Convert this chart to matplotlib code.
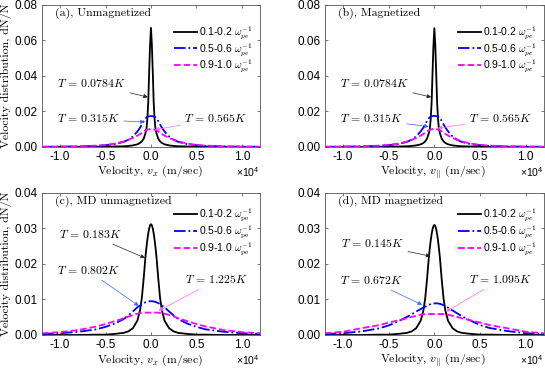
import matplotlib
matplotlib.use('Agg')
import matplotlib.pyplot as plt
import numpy as np

plt.rcParams['mathtext.fontset'] = 'cm'
plt.rcParams['font.family'] = ['Liberation Sans', 'DejaVu Sans']
plt.rcParams['axes.unicode_minus'] = False

# velocity grid, in units of 10^4 m/sec
vel = [-1.2, -1.0, -0.8, -0.6, -0.5, -0.4, -0.3, -0.25, -0.2, -0.15, -0.12, -0.1, -0.08, -0.06, -0.05, -0.04, -0.03, -0.02, -0.01,
       0.0,
       0.01, 0.02, 0.03, 0.04, 0.05, 0.06, 0.08, 0.1, 0.12, 0.15, 0.2, 0.25, 0.3, 0.4, 0.5, 0.6, 0.8, 1.0, 1.2]

# (a) unmagnetized
black_a = [0.0000, 0.0000, 0.0000, 0.0001, 0.0001, 0.0002, 0.0003, 0.0005, 0.0008, 0.0014, 0.0022, 0.0031, 0.0046, 0.0078, 0.0100, 0.0155, 0.0250, 0.0420, 0.0575,
           0.0670,
           0.0575, 0.0420, 0.0250, 0.0155, 0.0100, 0.0078, 0.0046, 0.0031, 0.0022, 0.0014, 0.0008, 0.0005, 0.0003, 0.0002, 0.0001, 0.0001, 0.0000, 0.0000, 0.0000]
blue_a = [0.0000, 0.0001, 0.0002, 0.0005, 0.0009, 0.0015, 0.0028, 0.0040, 0.0058, 0.0086, 0.0108, 0.0126, 0.0145, 0.0160, 0.0165, 0.0169, 0.0171, 0.0172, 0.0173,
          0.0173,
          0.0173, 0.0172, 0.0171, 0.0169, 0.0165, 0.0160, 0.0145, 0.0126, 0.0108, 0.0086, 0.0058, 0.0040, 0.0028, 0.0015, 0.0009, 0.0005, 0.0002, 0.0001, 0.0000]
magenta_a = [0.0000, 0.0001, 0.0003, 0.0007, 0.0011, 0.0018, 0.0030, 0.0039, 0.0050, 0.0063, 0.0072, 0.0079, 0.0087, 0.0093, 0.0095, 0.0097, 0.0098, 0.0099, 0.0100,
             0.0100,
             0.0100, 0.0099, 0.0098, 0.0097, 0.0095, 0.0093, 0.0087, 0.0079, 0.0072, 0.0063, 0.0050, 0.0039, 0.0030, 0.0018, 0.0011, 0.0007, 0.0003, 0.0001, 0.0000]

# (b) magnetized
black_b = [0.0000, 0.0000, 0.0000, 0.0001, 0.0001, 0.0002, 0.0003, 0.0005, 0.0008, 0.0014, 0.0022, 0.0031, 0.0047, 0.0078, 0.0101, 0.0156, 0.0250, 0.0418, 0.0572,
           0.0668,
           0.0572, 0.0418, 0.0250, 0.0156, 0.0101, 0.0078, 0.0047, 0.0031, 0.0022, 0.0014, 0.0008, 0.0005, 0.0003, 0.0002, 0.0001, 0.0001, 0.0000, 0.0000, 0.0000]
blue_b = [0.0000, 0.0001, 0.0002, 0.0005, 0.0009, 0.0015, 0.0028, 0.0040, 0.0058, 0.0087, 0.0109, 0.0127, 0.0146, 0.0161, 0.0166, 0.0170, 0.0172, 0.0173, 0.0174,
          0.0174,
          0.0174, 0.0173, 0.0172, 0.0170, 0.0166, 0.0161, 0.0146, 0.0127, 0.0109, 0.0087, 0.0058, 0.0040, 0.0028, 0.0015, 0.0009, 0.0005, 0.0002, 0.0001, 0.0000]
magenta_b = [0.0000, 0.0001, 0.0003, 0.0007, 0.0011, 0.0018, 0.0030, 0.0039, 0.0050, 0.0063, 0.0073, 0.0080, 0.0087, 0.0093, 0.0095, 0.0097, 0.0099, 0.0100, 0.0101,
             0.0101,
             0.0101, 0.0100, 0.0099, 0.0097, 0.0095, 0.0093, 0.0087, 0.0080, 0.0073, 0.0063, 0.0050, 0.0039, 0.0030, 0.0018, 0.0011, 0.0007, 0.0003, 0.0001, 0.0000]

# (c) MD unmagnetized
black_c = [0.0000, 0.0000, 0.0000, 0.0001, 0.0001, 0.0003, 0.0006, 0.0010, 0.0019, 0.0040, 0.0070, 0.0105, 0.0160, 0.0222, 0.0246, 0.0268, 0.0286, 0.0300, 0.0309,
           0.0312,
           0.0309, 0.0300, 0.0286, 0.0268, 0.0246, 0.0222, 0.0160, 0.0105, 0.0070, 0.0040, 0.0019, 0.0010, 0.0006, 0.0003, 0.0001, 0.0001, 0.0000, 0.0000, 0.0000]
blue_c = [0.0003, 0.0005, 0.0009, 0.0016, 0.0023, 0.0032, 0.0045, 0.0055, 0.0066, 0.0078, 0.0083, 0.0087, 0.0090, 0.0092, 0.0093, 0.0094, 0.0094, 0.0095, 0.0095,
          0.0095,
          0.0095, 0.0095, 0.0094, 0.0094, 0.0093, 0.0092, 0.0090, 0.0087, 0.0083, 0.0078, 0.0066, 0.0055, 0.0045, 0.0032, 0.0023, 0.0016, 0.0009, 0.0005, 0.0003]
magenta_c = [0.0005, 0.0008, 0.0014, 0.0024, 0.0031, 0.0039, 0.0047, 0.0052, 0.0056, 0.0060, 0.0062, 0.0062, 0.0063, 0.0063, 0.0063, 0.0063, 0.0063, 0.0063, 0.0063,
             0.0063,
             0.0063, 0.0063, 0.0063, 0.0063, 0.0063, 0.0063, 0.0063, 0.0062, 0.0062, 0.0060, 0.0056, 0.0052, 0.0047, 0.0039, 0.0031, 0.0024, 0.0014, 0.0008, 0.0005]

# (d) MD magnetized
black_d = [0.0000, 0.0000, 0.0000, 0.0001, 0.0001, 0.0003, 0.0006, 0.0010, 0.0019, 0.0040, 0.0069, 0.0104, 0.0158, 0.0220, 0.0244, 0.0266, 0.0284, 0.0298, 0.0307,
           0.0310,
           0.0307, 0.0298, 0.0284, 0.0266, 0.0244, 0.0220, 0.0158, 0.0104, 0.0069, 0.0040, 0.0019, 0.0010, 0.0006, 0.0003, 0.0001, 0.0001, 0.0000, 0.0000, 0.0000]
blue_d = [0.0003, 0.0005, 0.0010, 0.0019, 0.0027, 0.0038, 0.0051, 0.0058, 0.0066, 0.0073, 0.0077, 0.0080, 0.0082, 0.0085, 0.0086, 0.0087, 0.0088, 0.0088, 0.0089,
          0.0089,
          0.0089, 0.0089, 0.0089, 0.0089, 0.0088, 0.0088, 0.0086, 0.0084, 0.0081, 0.0077, 0.0069, 0.0061, 0.0053, 0.0040, 0.0028, 0.0020, 0.0011, 0.0005, 0.0003]
magenta_d = [0.0005, 0.0009, 0.0019, 0.0028, 0.0035, 0.0041, 0.0047, 0.0051, 0.0054, 0.0057, 0.0058, 0.0059, 0.0059, 0.0059, 0.0059, 0.0059, 0.0059, 0.0059, 0.0059,
             0.0059,
             0.0059, 0.0059, 0.0059, 0.0059, 0.0059, 0.0059, 0.0059, 0.0059, 0.0058, 0.0057, 0.0054, 0.0051, 0.0047, 0.0041, 0.0035, 0.0028, 0.0019, 0.0009, 0.0005]

panel_titles = ['(a), Unmagnetized', '(b), Magnetized', '(c), MD unmagnetized', '(d), MD magnetized']
temps = [['0.0784', '0.315', '0.565'], ['0.0784', '0.315', '0.565'],
         ['0.183', '0.802', '1.225'], ['0.145', '0.672', '1.095']]
legend_a = [r'0.1-0.2 $\omega_{pe}^{-1}$', r'0.5-0.6 $\omega_{pe}^{-1}$', r'0.9-1.0 $\omega_{pe}^{-1}$']
legend_c = [r'0.1-0.2 $\omega_{\rm pe}^{-1}$', r'0.5-0.6 $\omega_{\rm pe}^{-1}$', r'0.9-1.0 $\omega_{\rm pe}^{-1}$']
xlabels = [r'Velocity, $v_x$ (m/sec)', r'Velocity, $v_{||}$ (m/sec)']

curves = [(black_a, blue_a, magenta_a), (black_b, blue_b, magenta_b),
          (black_c, blue_c, magenta_c), (black_d, blue_d, magenta_d)]

# layout / annotation placement
rects = [[0.077, 0.601, 0.400, 0.386], [0.596, 0.601, 0.402, 0.386],
         [0.077, 0.0897, 0.400, 0.386], [0.596, 0.0897, 0.402, 0.386]]
ymax = [0.08, 0.08, 0.04, 0.04]
text_pos = [[(-0.65, 0.0355), (-0.69, 0.0155), (0.715, 0.0155)],
            [(-0.66, 0.0355), (-0.69, 0.0155), (0.72, 0.0155)],
            [(-0.66, 0.0282), (-0.69, 0.0181), (0.72, 0.0155)],
            [(-0.68, 0.0256), (-0.69, 0.0153), (0.72, 0.0155)]]
tips = [[(-0.035, 0.028), (-0.07, 0.014), (0.045, 0.0097)],
        [(-0.035, 0.028), (-0.063, 0.0114), (0.037, 0.0105)],
        [(-0.066, 0.0217), (-0.135, 0.0082), (0.085, 0.0068)],
        [(-0.044, 0.0222), (-0.135, 0.0085), (0.128, 0.0066)]]
leg_anchor = [(0.965, 0.865), (0.965, 0.865), (0.965, 0.905), (0.965, 0.905)]

colors = ['black', '#0000ff', '#ff00ff']
arrow_colors = ['#222222', '#3366ff', '#ff66ff']
styles = ['-', '-.', '--']
serif = 'cmr10'

fig = plt.figure(figsize=(5.45, 3.68), dpi=100)
for i in range(4):
    ax = fig.add_axes(rects[i])
    labels = legend_a if i != 2 else legend_c
    for j in range(3):
        ax.plot(vel, curves[i][j], color=colors[j], ls=styles[j], lw=1.3, label=labels[j])
    ax.set_xlim(-1.2, 1.2)
    ax.set_ylim(0, ymax[i])
    ax.set_xticks([-1.0, -0.5, 0.0, 0.5, 1.0])
    ax.set_xticklabels(['-1.0', '-0.5', '0.0', '0.5', '1.0'])
    yt = np.arange(0, ymax[i] + 1e-9, ymax[i] / 4)
    ax.set_yticks(yt)
    ax.set_yticklabels(['%.2f' % v for v in yt])
    ax.tick_params(direction='in', length=2.5, width=0.5, labelsize=8.5, top=True, right=True, pad=3,
                   color='#444444')
    for s in ax.spines.values():
        s.set_linewidth(0.6)
        s.set_color('#555555')
    ax.set_xlabel(xlabels[i % 2], fontsize=8.5, family=serif)
    ax.xaxis.set_label_coords(0.495, -0.176)
    ax.xaxis.label.set_va('center')
    if i % 2 == 0:
        ax.set_ylabel('Velocity distribution, dN/N', fontsize=8.5, family=serif)
        ax.yaxis.set_label_coords(-0.163, 0.5)
        ax.yaxis.label.set_va('center')
    ax.text(1.0, -0.18, r'×10$\mathregular{^{4}}$', transform=ax.transAxes, ha='right', va='center',
            fontsize=7.5)
    ax.text(0.06, 0.94, panel_titles[i], transform=ax.transAxes, ha='left', va='center',
            fontsize=8.5, family=serif)
    for j in range(3):
        ax.annotate(r'$T\,=\,%sK$' % temps[i][j], xy=tips[i][j], xytext=text_pos[i][j],
                    ha='center', va='center', fontsize=8.5,
                    arrowprops=dict(arrowstyle='-|>', color=arrow_colors[j], lw=0.5,
                                    mutation_scale=6, shrinkA=1, shrinkB=0))
    ax.legend(loc='upper right', bbox_to_anchor=leg_anchor[i], frameon=False, fontsize=7.5,
              handlelength=2.2, handletextpad=0.2, labelspacing=0.0, borderaxespad=0,
              borderpad=0)

fig.savefig('out.png', dpi=100)
